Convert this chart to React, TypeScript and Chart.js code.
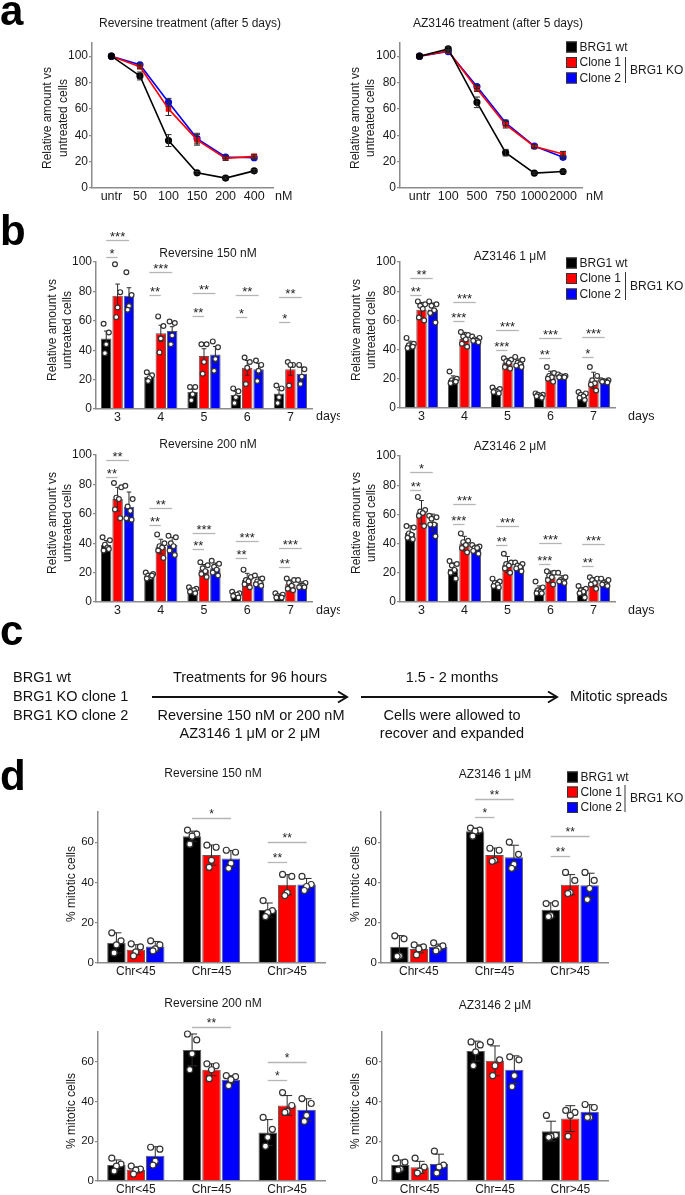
import React, { useEffect, useRef } from 'react';
import { Chart, registerables } from 'chart.js';

Chart.register(...registerables);

const FONT = "'Liberation Sans', Arial, Helvetica, sans-serif";
Chart.defaults.font.family = FONT;
Chart.defaults.color = '#1a1a1a';

const COLORS = ['#000000', '#ff0000', '#0000ff'];
const SERIES = ['BRG1 wt', 'Clone 1', 'Clone 2'];
const AXIS = '#8c8c8c';
const Y_W = 40;
const X_H = 14;

// ---------------- panel a data ----------------
const revDoseLabels = ['untr', '50', '100', '150', '200', '400'];
const revWt = [100, 85, 36, 11.5, 7.5, 13];
const revC1 = [100, 92, 60, 36.5, 22.5, 24];
const revC2 = [100, 93.5, 65, 37.5, 23.5, 23];
const revWtErr = [0, 3, 4.5, 1, 0.8, 1];
const revC1Err = [0, 1.5, 5, 4, 1.5, 1.5];
const revC2Err = [0, 1, 3, 4, 1, 1];

const azDoseLabels = ['untr', '100', '500', '750', '1000', '2000'];
const azWt = [100, 105.5, 65, 26.8, 11.3, 12.5];
const azC1 = [100, 104, 75.3, 48, 31.5, 25.8];
const azC2 = [100, 103.5, 77, 49.5, 31.8, 23.3];
const azWtErr = [0, 1.5, 4, 2.5, 0.8, 1];
const azC1Err = [0, 1, 2, 2.5, 1.5, 2];
const azC2Err = [0, 1, 1.5, 2, 1, 1.5];

// ---------------- panel b data ----------------
const dayLabels = ['3', '4', '5', '6', '7'];

const rev150Wt = [48, 22, 11.5, 9.5, 10.5];
const rev150C1 = [77, 51.5, 36, 28, 27];
const rev150C2 = [77, 53, 37, 27, 24];
const rev150WtErr = [5, 2, 2, 2.5, 2.5];
const rev150C1Err = [8, 5.5, 5, 5, 4];
const rev150C2Err = [5.5, 3, 5.5, 4, 4.5];
const rev150WtPts = [[58, 52, 44, 38], [25, 23, 21, 19], [15, 15, 10, 6], [14, 12, 8, 4], [16, 14, 8, 4]];
const rev150C1Pts = [[98.5, 79.5, 69, 62.5], [63, 56.5, 48, 38.5], [44, 44, 32, 24], [35, 32, 28, 17], [32, 30, 30, 16]];
const rev150C2Pts = [[93, 77.5, 70, 67.5], [59.5, 58.5, 50, 44], [46, 42, 34, 26], [33, 30, 26, 19], [30, 27, 22, 17]];
const rev150Sig: [number, number, number, string][] = [
  [0, 2, 115, '***'], [0, 1, 103.5, '*'], [1, 2, 93, '***'], [1, 1, 77.5, '**'], [2, 2, 79, '**'],
  [2, 1, 63, '**'], [3, 2, 77.5, '**'], [3, 1, 62.5, '*'], [4, 2, 76, '**'], [4, 1, 59, '*'],
];

const az1Wt = [43.3, 19.5, 11.8, 8.5, 8.4];
const az1C1 = [67.3, 47.3, 30.8, 22.2, 19];
const az1C2 = [67.4, 46.8, 31, 21.7, 18.3];
const az1WtErr = [2.5, 2.5, 1.5, 1.2, 1.5];
const az1C1Err = [5, 4.5, 3, 3, 5.5];
const az1C2Err = [4.5, 1.5, 2.5, 1, 1];
const az1WtPts = [[48, 44, 43, 42, 41, 42], [25, 20, 19, 18, 17, 18], [14, 13, 12, 11, 11, 10], [10, 9, 9, 8, 8, 7], [11, 10, 9, 8, 7, 5.5]];
const az1C1Pts = [[73, 71, 70, 68, 62, 60], [52, 50, 49, 47, 44, 42], [34, 33, 32, 31, 28, 27], [28, 24, 22, 21, 20, 18], [28, 22, 19, 17, 16, 12]];
const az1C2Pts = [[73, 71, 70, 67, 65, 58.5], [49, 48, 47, 46, 46, 45], [35, 33, 31, 30, 29, 28], [23, 22, 22, 21, 21, 21], [19, 19, 18.5, 18, 18, 17.5]];
const az1Sig: [number, number, number, string][] = [
  [0, 2, 89, '**'], [0, 1, 77.6, '**'], [1, 2, 72.6, '***'], [1, 1, 59.4, '***'], [2, 2, 53.7, '***'],
  [2, 1, 40, '***'], [3, 2, 48, '***'], [3, 1, 34.2, '**'], [4, 2, 48.6, '***'], [4, 1, 34.9, '*'],
];

const rev200Wt = [38.8, 18, 8, 5, 4];
const rev200C1 = [70, 37.7, 22, 15, 12];
const rev200C2 = [64.8, 39, 23, 14, 11.7];
const rev200WtErr = [3, 1.5, 1, 1, 1];
const rev200C1Err = [8, 5, 3.5, 4.5, 3];
const rev200C2Err = [10, 5, 3.5, 3, 2];
const rev200WtPts = [[44, 42, 39, 37, 35, 36], [20, 19, 18, 17, 16, 18], [10, 9, 8, 8, 7, 6], [7, 6, 5, 5, 4, 3], [6, 5, 4, 3, 3, 3]];
const rev200C1Pts = [[81, 78, 71, 70, 63, 57], [46, 40, 38, 37, 35, 30], [27, 25, 23, 21, 19, 17], [22, 17, 15, 14, 12, 10], [16, 15, 13, 11, 9, 8]];
const rev200C2Pts = [[79, 70, 65, 62, 57, 56], [45, 44, 40, 38, 35, 32], [28, 26, 24, 22, 20, 18], [18, 16, 14, 13, 12, 11], [15, 13, 11, 11, 10, 10]];
const rev200Sig: [number, number, number, string][] = [
  [0, 2, 96.6, '**'], [0, 1, 84.8, '**'], [1, 2, 64, '**'], [1, 1, 52.5, '**'], [2, 2, 47, '***'],
  [2, 1, 36, '**'], [3, 2, 41.3, '***'], [3, 1, 30, '**'], [4, 2, 36.5, '***'], [4, 1, 24, '**'],
];

const az2Wt = [47.2, 22.8, 12.7, 8.5, 7.3];
const az2C1 = [61.5, 40, 25.7, 17.2, 13.7];
const az2C2 = [54.2, 36.5, 24.3, 15.5, 13.2];
const az2WtErr = [5, 4, 2, 2.5, 2.5];
const az2C1Err = [8, 5, 5.5, 4, 3];
const az2C2Err = [6, 2.5, 2, 2.5, 2];
const az2WtPts = [[52, 51, 47, 46, 44, 43], [28, 26, 25, 22, 20, 16], [16, 14, 13, 12, 11, 10], [14, 10, 8, 7, 6, 6], [11, 9, 8, 7, 6, 3]];
const az2C1Pts = [[72, 63, 62, 61, 59, 52], [47, 42, 41, 39, 37, 34], [33, 27, 26, 25, 23, 20], [21, 20, 18, 17, 15, 12], [17, 16, 15, 13, 12, 9]];
const az2C2Pts = [[59, 58, 57, 53, 53, 45], [39, 38, 37, 37, 35, 33], [27, 26, 25, 24, 23, 21], [20, 17, 15, 14, 14, 13], [16, 15, 13, 12, 12, 11]];
const az2Sig: [number, number, number, string][] = [
  [0, 2, 89, '*'], [0, 1, 77, '**'], [1, 2, 67.4, '***'], [1, 1, 53.7, '***'], [2, 2, 51.8, '***'],
  [2, 1, 38.8, '**'], [3, 2, 40.4, '***'], [3, 1, 26.3, '***'], [4, 2, 39.5, '***'], [4, 1, 25, '**'],
];

// ---------------- panel d data ----------------
const chrLabels = ['Chr<45', 'Chr=45', 'Chr>45'];

const mit150Wt = [10, 63, 26.3];
const mit150C1 = [6.6, 53.6, 38.9];
const mit150C2 = [8.2, 51.9, 39];
const mit150WtErr = [5, 2.5, 3.5];
const mit150C1Err = [2.5, 5, 5];
const mit150C2Err = [2.5, 4, 3];
const mit150WtPts = [[15, 11, 9, 5], [66, 64, 63, 59], [31, 26, 25, 23]];
const mit150C1Pts = [[9.5, 8, 5.5, 3.5], [58.5, 57.5, 51, 47.5], [44, 43, 35, 33.5]];
const mit150C2Pts = [[11, 9, 7, 6], [56, 55, 49.5, 47], [43, 39, 38, 36]];
const mit150Sig: [number, number, number, string][] = [[1, 2, 71.8, '*'], [2, 2, 59.9, '**'], [2, 1, 50.1, '**']];

const mitAz1Wt = [8.1, 65.4, 26.4];
const mitAz1C1 = [7, 53.6, 38.9];
const mitAz1C2 = [7.9, 52.5, 38.6];
const mitAz1WtErr = [5.5, 1.5, 3.5];
const mitAz1C1Err = [2, 3.5, 5];
const mitAz1C2Err = [1.5, 6, 6];
const mitAz1WtPts = [[13.5, 12, 3.5, 3.3], [67, 66, 65.5, 63], [29.5, 29.5, 23.5, 23]];
const mitAz1C1Pts = [[9, 8, 7, 4], [57, 56, 51, 50.5], [45, 41, 35, 34.5]];
const mitAz1C2Pts = [[10, 8.5, 7, 6], [60, 54, 49, 47], [45, 41, 37, 31.5]];
const mitAz1Sig: [number, number, number, string][] = [[1, 2, 81.7, '**'], [1, 1, 72.3, '*'], [2, 2, 63.2, '**'], [2, 1, 53.3, '**']];

const mit200Wt = [8.1, 66, 24.4];
const mit200C1 = [5.6, 56, 38];
const mit200C2 = [12.75, 51, 35.9];
const mit200WtErr = [2.5, 8, 6.5];
const mit200C1Err = [1.5, 3, 5];
const mit200C2Err = [4.5, 2, 5.5];
const mit200WtPts = [[11.5, 8.5, 7.5, 5], [74, 71, 64, 56], [32, 26, 22, 17.5]];
const mit200C1Pts = [[7.5, 6, 5.5, 3.5], [59, 58, 56, 51.5], [44.5, 38, 35, 34.5]];
const mit200C2Pts = [[17, 16, 10, 8], [53, 52.5, 51, 48], [41.5, 39, 33, 30]];
const mit200Sig: [number, number, number, string][] = [[1, 2, 77.6, '**'], [2, 2, 59.7, '*'], [2, 1, 50.8, '*']];

const mitAz2Wt = [8.1, 65.4, 25.1];
const mitAz2C1 = [6.9, 60.5, 31.4];
const mitAz2C2 = [8.5, 56, 34.9];
const mitAz2WtErr = [2.5, 5, 5];
const mitAz2C1Err = [3, 7.5, 6.5];
const mitAz2C2Err = [5, 7, 3.5];
const mitAz2WtPts = [[11.5, 9.5, 6, 5.5], [70, 68.5, 65, 58], [33, 23, 22.5, 22]];
const mitAz2C1Pts = [[11.5, 7, 5, 4], [70, 61, 58, 53], [35.5, 34.5, 33, 22.5]];
const mitAz2C2Pts = [[15, 8, 7, 4], [62.5, 61, 53, 47.5], [38.5, 37, 32, 32]];
const mitAz2Sig: [number, number, number, string][] = [];

const yTicksA = [0, 20, 40, 60, 80, 100];
const yTicksB = [0, 20, 40, 60, 80, 100];
const yTicksD = [0, 20, 40, 60];

// ---------------- helpers ----------------
type Rect = [number, number, number, number];
type Plot = [number, number, number, number];

const OFF4 = [-0.5, 0.5, 0, -0.25];
const OFF6 = [-0.7, 0.7, -0.25, 0.25, -0.5, 0.5];

interface Deco {
  ox: number;
  oy: number;
  title?: { text: string; x: number; y: number; size: number };
  yTitle?: { lines: string[]; xs: number[]; y: number; size: number };
  unit?: { text: string; x: number; y: number; size: number };
  legend?: { x: number; ys: number[]; brX: number; brY0: number; brY1: number; koX: number; koY: number; size: number };
  vals?: number[][];
  errs?: number[][];
  capFrac?: number;
  capPx?: number;
  pts?: number[][][];
  ptR?: number;
  sig?: [number, number, number, string][];
  sigSize?: number;
  sigDy?: number;
}

function makeDeco(d: Deco) {
  return {
    id: 'deco',
    afterDatasetsDraw(chart: any) {
      const ctx = chart.ctx as CanvasRenderingContext2D;
      const ys = chart.scales.y;
      const px = (x: number) => x - d.ox;
      const py = (y: number) => y - d.oy;
      ctx.save();
      // error bars
      if (d.errs && d.vals) {
        d.errs.forEach((errArr, i) => {
          const meta = chart.getDatasetMeta(i);
          errArr.forEach((e, j) => {
            if (!e) return;
            const el = meta.data[j];
            const v = d.vals![i][j];
            const x = el.x;
            const y1 = ys.getPixelForValue(v + e);
            const y2 = ys.getPixelForValue(v - e);
            const cap = d.capPx != null ? d.capPx : el.width * (d.capFrac || 0.25);
            ctx.strokeStyle = '#2a2a2a';
            ctx.lineWidth = 1;
            ctx.beginPath();
            ctx.moveTo(x, y1); ctx.lineTo(x, y2);
            ctx.moveTo(x - cap, y1); ctx.lineTo(x + cap, y1);
            ctx.moveTo(x - cap, y2); ctx.lineTo(x + cap, y2);
            ctx.stroke();
          });
        });
      }
      // individual points
      if (d.pts) {
        d.pts.forEach((series, i) => {
          const meta = chart.getDatasetMeta(i);
          series.forEach((grp, j) => {
            const el = meta.data[j];
            const offs = grp.length > 4 ? OFF6 : OFF4;
            grp.forEach((v, k) => {
              const x = el.x + offs[k % offs.length] * el.width / 2;
              const y = ys.getPixelForValue(v);
              ctx.beginPath();
              ctx.arc(x, y, d.ptR || 2.3, 0, Math.PI * 2);
              ctx.fillStyle = '#ffffff';
              ctx.fill();
              ctx.strokeStyle = '#333333';
              ctx.lineWidth = 1.2;
              ctx.stroke();
            });
          });
        });
      }
      // significance brackets
      if (d.sig) {
        d.sig.forEach(([g, to, v, lab]) => {
          const x1 = chart.getDatasetMeta(0).data[g].x;
          const x2 = chart.getDatasetMeta(to).data[g].x;
          const y = Math.round(ys.getPixelForValue(v)) + 0.5;
          ctx.strokeStyle = '#b5b5b5';
          ctx.lineWidth = 1.3;
          ctx.beginPath();
          ctx.moveTo(x1, y); ctx.lineTo(x2, y);
          ctx.stroke();
          ctx.fillStyle = '#222';
          ctx.font = `${d.sigSize || 13}px ${FONT}`;
          ctx.textAlign = 'center';
          ctx.textBaseline = 'alphabetic';
          ctx.fillText(lab, (x1 + x2) / 2, y + (d.sigDy || 0));
        });
      }
      // texts
      ctx.fillStyle = '#1a1a1a';
      if (d.title) {
        ctx.font = `${d.title.size}px ${FONT}`;
        ctx.textAlign = 'center';
        ctx.textBaseline = 'middle';
        ctx.fillText(d.title.text, px(d.title.x), py(d.title.y));
      }
      if (d.unit) {
        ctx.font = `${d.unit.size}px ${FONT}`;
        ctx.textAlign = 'left';
        ctx.textBaseline = 'middle';
        ctx.fillText(d.unit.text, px(d.unit.x), py(d.unit.y));
      }
      if (d.yTitle) {
        const yt = d.yTitle;
        ctx.font = `${yt.size}px ${FONT}`;
        ctx.textAlign = 'center';
        ctx.textBaseline = 'middle';
        yt.lines.forEach((line, i) => {
          ctx.save();
          ctx.translate(px(yt.xs[i]), py(yt.y));
          ctx.rotate(-Math.PI / 2);
          ctx.fillText(line, 0, 0);
          ctx.restore();
        });
      }
      if (d.legend) {
        const lg = d.legend;
        ctx.font = `${lg.size}px ${FONT}`;
        ctx.textAlign = 'left';
        ctx.textBaseline = 'middle';
        SERIES.forEach((name, i) => {
          const x = px(lg.x);
          const y = py(lg.ys[i]);
          ctx.fillStyle = COLORS[i];
          ctx.fillRect(x, y - 5.5, 11, 11);
          ctx.strokeStyle = '#333';
          ctx.lineWidth = 1;
          ctx.strokeRect(x + 0.5, y - 5, 10, 10);
          ctx.fillStyle = '#1a1a1a';
          ctx.fillText(name, x + 13.5, y + 0.5);
        });
        ctx.strokeStyle = '#333';
        ctx.lineWidth = 1;
        ctx.beginPath();
        ctx.moveTo(px(lg.brX), py(lg.brY0));
        ctx.lineTo(px(lg.brX), py(lg.brY1));
        ctx.stroke();
        ctx.fillText('BRG1 KO', px(lg.koX), py(lg.koY));
      }
      ctx.restore();
    },
  };
}

function pad(rect: Rect, plot: Plot) {
  return {
    left: plot[0] - rect[0] - Y_W,
    top: plot[1] - rect[1],
    right: rect[0] + rect[2] - plot[2],
    bottom: rect[1] + rect[3] - plot[3] - X_H,
  };
}

function yScale(max: number, ticks: number[], size: number) {
  return {
    type: 'linear',
    min: 0,
    max,
    afterBuildTicks: (s: any) => { s.ticks = ticks.map((v) => ({ value: v })); },
    afterFit: (s: any) => { s.width = Y_W; },
    ticks: { padding: 1, font: { size }, color: '#1a1a1a' },
    grid: { display: true, drawOnChartArea: false, drawTicks: true, tickLength: 3, color: AXIS, lineWidth: 1.3 },
    border: { display: true, color: AXIS, width: 1.5 },
  };
}

const baseOptions = {
  responsive: false,
  animation: false,
  devicePixelRatio: 1,
  events: [] as string[],
  plugins: { legend: { display: false }, tooltip: { enabled: false }, title: { display: false } },
};

interface LineArgs {
  rect: Rect; plot: Plot; labels: string[]; series: number[][]; errs: number[][]; deco: Partial<Deco>;
}

function lineConfig(a: LineArgs) {
  const styles = ['circle', 'rect', 'circle'];
  return {
    type: 'line',
    data: {
      datasets: a.series.map((vals, i) => ({
        label: SERIES[i],
        data: vals.map((v, k) => ({ x: k, y: v })),
        borderColor: COLORS[i],
        backgroundColor: COLORS[i],
        pointBackgroundColor: COLORS[i],
        pointBorderColor: COLORS[i],
        pointStyle: styles[i],
        pointRadius: 2.8,
        borderWidth: 1.6,
        tension: 0,
      })),
    },
    options: {
      ...baseOptions,
      layout: { padding: pad(a.rect, a.plot) },
      scales: {
        x: {
          type: 'linear',
          min: -0.68,
          max: 5.66,
          afterBuildTicks: (s: any) => { s.ticks = a.labels.map((_, i) => ({ value: i })); },
          afterFit: (s: any) => { s.height = X_H; },
          ticks: { padding: 1.5, font: { size: 12.5 }, color: '#1a1a1a', maxRotation: 0, autoSkip: false, callback: (v: any) => a.labels[v] },
          grid: { display: true, drawOnChartArea: false, drawTicks: false, color: AXIS },
          border: { display: true, color: AXIS, width: 1.5 },
        },
        y: yScale(110, yTicksA, 12),
      },
    },
    plugins: [makeDeco({ ox: a.rect[0], oy: a.rect[1], vals: a.series, errs: a.errs, capPx: 3, ...a.deco } as Deco)],
  };
}

interface BarArgs {
  rect: Rect; plot: Plot; labels: string[]; series: number[][]; errs: number[][]; pts: number[][][];
  sig: [number, number, number, string][]; yMax: number; yTicks: number[]; tickSize: number; xTickSize: number;
  catPct: number; barPct: number; ptR: number; sigSize: number; sigDy: number; capFrac: number; deco: Partial<Deco>;
}

function barConfig(a: BarArgs) {
  return {
    type: 'bar',
    data: {
      labels: a.labels,
      datasets: a.series.map((vals, i) => ({
        label: SERIES[i],
        data: vals,
        backgroundColor: COLORS[i],
        borderColor: '#5a5a5a',
        borderWidth: 1,
        categoryPercentage: a.catPct,
        barPercentage: a.barPct,
      })),
    },
    options: {
      ...baseOptions,
      layout: { padding: pad(a.rect, a.plot) },
      scales: {
        x: {
          type: 'category',
          offset: true,
          afterFit: (s: any) => { s.height = X_H; },
          ticks: { padding: 1.5, font: { size: a.xTickSize }, color: '#1a1a1a', maxRotation: 0, autoSkip: false },
          grid: { display: true, drawOnChartArea: false, drawTicks: false, color: AXIS },
          border: { display: true, color: AXIS, width: 1.5 },
        },
        y: yScale(a.yMax, a.yTicks, a.tickSize),
      },
    },
    plugins: [makeDeco({
      ox: a.rect[0], oy: a.rect[1], vals: a.series, errs: a.errs, pts: a.pts, ptR: a.ptR,
      sig: a.sig, sigSize: a.sigSize, sigDy: a.sigDy, capFrac: a.capFrac, ...a.deco,
    } as Deco)],
  };
}

// ---------------- layout ----------------
const A_L_RECT: Rect = [0, 8, 340, 207];
const A_R_RECT: Rect = [340, 8, 345, 207];
const B_TL_RECT: Rect = [0, 215, 340, 210];
const B_TR_RECT: Rect = [340, 215, 345, 210];
const B_BL_RECT: Rect = [0, 425, 340, 195];
const B_BR_RECT: Rect = [340, 425, 345, 195];
const D_TL_RECT: Rect = [0, 755, 340, 230];
const D_TR_RECT: Rect = [340, 755, 345, 230];
const D_BL_RECT: Rect = [0, 985, 340, 210];
const D_BR_RECT: Rect = [340, 985, 345, 210];

const Y_TITLE_B = ['Relative amount vs', 'untreated cells'];
const LEG_SIZE = 12;

function bPanel(rect: Rect, plot: Plot, series: number[][], errs: number[][], pts: number[][][], sig: [number, number, number, string][], deco: Partial<Deco>) {
  return barConfig({
    rect, plot, labels: dayLabels, series, errs, pts, sig, yMax: 100, yTicks: yTicksB, tickSize: 12, xTickSize: 12.5,
    catPct: 0.79, barPct: 0.92, ptR: 2.4, sigSize: 13, sigDy: 0.5, capFrac: 0.22, deco,
  });
}

function dPanel(rect: Rect, plot: Plot, series: number[][], errs: number[][], pts: number[][][], sig: [number, number, number, string][], deco: Partial<Deco>) {
  return barConfig({
    rect, plot, labels: chrLabels, series, errs, pts, sig, yMax: 75, yTicks: yTicksD, tickSize: 11.5, xTickSize: 12,
    catPct: 0.77, barPct: 0.95, ptR: 3, sigSize: 12, sigDy: -0.5, capFrac: 0.27, deco,
  });
}

const buildALeft = () => lineConfig({
  rect: A_L_RECT, plot: [92, 43, 273, 188], labels: revDoseLabels,
  series: [revWt, revC1, revC2], errs: [revWtErr, revC1Err, revC2Err],
  deco: {
    title: { text: 'Reversine treatment (after 5 days)', x: 190, y: 24, size: 12 },
    yTitle: { lines: Y_TITLE_B, xs: [48, 64], y: 118, size: 12 },
    unit: { text: 'nM', x: 275, y: 197, size: 12.5 },
  },
});

const buildARight = () => lineConfig({
  rect: A_R_RECT, plot: [400, 43, 582, 188], labels: azDoseLabels,
  series: [azWt, azC1, azC2], errs: [azWtErr, azC1Err, azC2Err],
  deco: {
    title: { text: 'AZ3146 treatment (after 5 days)', x: 498, y: 24, size: 12 },
    yTitle: { lines: Y_TITLE_B, xs: [355.5, 371], y: 118, size: 12 },
    unit: { text: 'nM', x: 586, y: 197, size: 12.5 },
    legend: { x: 566, ys: [47, 62.5, 78], brX: 625.5, brY0: 57, brY1: 83, koX: 630, koY: 70.5, size: LEG_SIZE },
  },
});

const buildBTL = () => bPanel(B_TL_RECT, [96, 262, 312, 409],
  [rev150Wt, rev150C1, rev150C2], [rev150WtErr, rev150C1Err, rev150C2Err],
  [rev150WtPts, rev150C1Pts, rev150C2Pts], rev150Sig, {
    title: { text: 'Reversine 150 nM', x: 208, y: 254, size: 12 },
    yTitle: { lines: Y_TITLE_B, xs: [52.5, 67.5], y: 330, size: 12 },
    unit: { text: 'days', x: 316, y: 417, size: 12.5 },
  });

const buildBTR = () => bPanel(B_TR_RECT, [400, 262, 615, 408],
  [az1Wt, az1C1, az1C2], [az1WtErr, az1C1Err, az1C2Err],
  [az1WtPts, az1C1Pts, az1C2Pts], az1Sig, {
    title: { text: 'AZ3146 1 μM', x: 510, y: 257, size: 12 },
    yTitle: { lines: Y_TITLE_B, xs: [356.5, 371.5], y: 330, size: 12 },
    unit: { text: 'days', x: 628, y: 417, size: 12.5 },
    legend: { x: 566, ys: [263, 278.5, 294], brX: 625.5, brY0: 272, brY1: 300, koX: 630, koY: 286.5, size: LEG_SIZE },
  });

const buildBBL = () => bPanel(B_BL_RECT, [96, 455, 312, 602],
  [rev200Wt, rev200C1, rev200C2], [rev200WtErr, rev200C1Err, rev200C2Err],
  [rev200WtPts, rev200C1Pts, rev200C2Pts], rev200Sig, {
    title: { text: 'Reversine 200 nM', x: 208, y: 445, size: 12 },
    yTitle: { lines: Y_TITLE_B, xs: [52.5, 67.5], y: 523, size: 12 },
    unit: { text: 'days', x: 316, y: 611, size: 12.5 },
  });

const buildBBR = () => bPanel(B_BR_RECT, [400, 456, 615, 602],
  [az2Wt, az2C1, az2C2], [az2WtErr, az2C1Err, az2C2Err],
  [az2WtPts, az2C1Pts, az2C2Pts], az2Sig, {
    title: { text: 'AZ3146 2 μM', x: 510, y: 447, size: 12 },
    yTitle: { lines: Y_TITLE_B, xs: [356.5, 371.5], y: 523, size: 12 },
    unit: { text: 'days', x: 628, y: 611, size: 12.5 },
  });

const buildDTL = () => dPanel(D_TL_RECT, [98, 812, 325, 963],
  [mit150Wt, mit150C1, mit150C2], [mit150WtErr, mit150C1Err, mit150C2Err],
  [mit150WtPts, mit150C1Pts, mit150C2Pts], mit150Sig, {
    title: { text: 'Reversine 150 nM', x: 213, y: 774, size: 12 },
    yTitle: { lines: ['% mitotic cells'], xs: [72], y: 884, size: 12 },
  });

const buildDTR = () => dPanel(D_TR_RECT, [381, 812, 608, 963],
  [mitAz1Wt, mitAz1C1, mitAz1C2], [mitAz1WtErr, mitAz1C1Err, mitAz1C2Err],
  [mitAz1WtPts, mitAz1C1Pts, mitAz1C2Pts], mitAz1Sig, {
    title: { text: 'AZ3146 1 μM', x: 495, y: 775, size: 12 },
    yTitle: { lines: ['% mitotic cells'], xs: [355.5], y: 884, size: 12 },
    legend: { x: 567, ys: [777, 792, 807.5], brX: 625, brY0: 785, brY1: 812, koX: 630, koY: 799, size: LEG_SIZE },
  });

const buildDBL = () => dPanel(D_BL_RECT, [98, 1032, 325, 1181],
  [mit200Wt, mit200C1, mit200C2], [mit200WtErr, mit200C1Err, mit200C2Err],
  [mit200WtPts, mit200C1Pts, mit200C2Pts], mit200Sig, {
    title: { text: 'Reversine 200 nM', x: 213, y: 1004, size: 12 },
    yTitle: { lines: ['% mitotic cells'], xs: [72], y: 1111, size: 12 },
  });

const buildDBR = () => dPanel(D_BR_RECT, [382, 1032, 608, 1181],
  [mitAz2Wt, mitAz2C1, mitAz2C2], [mitAz2WtErr, mitAz2C1Err, mitAz2C2Err],
  [mitAz2WtPts, mitAz2C1Pts, mitAz2C2Pts], mitAz2Sig, {
    title: { text: 'AZ3146 2 μM', x: 495, y: 1006, size: 12 },
    yTitle: { lines: ['% mitotic cells'], xs: [355.5], y: 1111, size: 12 },
  });

function ChartBox({ rect, build }: { rect: Rect; build: () => any }) {
  const ref = useRef<HTMLCanvasElement | null>(null);
  useEffect(() => {
    const chart = new Chart(ref.current as HTMLCanvasElement, build());
    return () => chart.destroy();
  }, []);
  return (
    <div style={{ position: 'absolute', left: rect[0], top: rect[1], width: rect[2], height: rect[3] }}>
      <canvas ref={ref} width={rect[2]} height={rect[3]} style={{ display: 'block', width: rect[2], height: rect[3] }} />
    </div>
  );
}

// ---------------- panel c and panel letters ----------------
function Arrow({ x1, x2, y }: { x1: number; x2: number; y: number }) {
  return (
    <g stroke="#111" strokeWidth={2} fill="none">
      <line x1={x1} y1={y} x2={x2 - 1} y2={y} />
      <polyline points={`${x2 - 9},${y - 5.5} ${x2},${y} ${x2 - 9},${y + 5.5}`} strokeLinejoin="miter" />
    </g>
  );
}

function Overlay() {
  const t = { fontFamily: FONT, fontSize: 14.5, fill: '#111' };
  const L = { fontFamily: FONT, fontSize: 42, fontWeight: 700, fill: '#000' };
  return (
    <svg width={685} height={1195} style={{ position: 'absolute', left: 0, top: 0, pointerEvents: 'none' }}>
      <text x={0} y={25} {...L}>a</text>
      <text x={0} y={245} {...L}>b</text>
      <text x={0} y={645} {...L}>c</text>
      <text x={0} y={790} {...L}>d</text>

      <text x={13} y={682} {...t}>BRG1 wt</text>
      <text x={13} y={701} {...t}>BRG1 KO clone 1</text>
      <text x={13} y={720} {...t}>BRG1 KO clone 2</text>

      <text x={250} y={682} textAnchor="middle" {...t}>Treatments for 96 hours</text>
      <Arrow x1={152} x2={347} y={697} />
      <text x={251} y={720} textAnchor="middle" {...t}>Reversine 150 nM or 200 nM</text>
      <text x={250} y={738} textAnchor="middle" {...t}>AZ3146 1 μM or 2 μM</text>

      <text x={452} y={682} textAnchor="middle" {...t}>1.5 - 2 months</text>
      <Arrow x1={361} x2={557} y={697} />
      <text x={452} y={720} textAnchor="middle" {...t}>Cells were allowed to</text>
      <text x={452} y={738} textAnchor="middle" {...t}>recover and expanded</text>

      <text x={570} y={701} {...t}>Mitotic spreads</text>
    </svg>
  );
}

export default function App() {
  return (
    <div style={{ position: 'absolute', left: 0, top: 0, width: 685, height: 1195, overflow: 'hidden', background: '#fff', fontFamily: FONT }}>
      <ChartBox rect={A_L_RECT} build={buildALeft} />
      <ChartBox rect={A_R_RECT} build={buildARight} />
      <ChartBox rect={B_TL_RECT} build={buildBTL} />
      <ChartBox rect={B_TR_RECT} build={buildBTR} />
      <ChartBox rect={B_BL_RECT} build={buildBBL} />
      <ChartBox rect={B_BR_RECT} build={buildBBR} />
      <ChartBox rect={D_TL_RECT} build={buildDTL} />
      <ChartBox rect={D_TR_RECT} build={buildDTR} />
      <ChartBox rect={D_BL_RECT} build={buildDBL} />
      <ChartBox rect={D_BR_RECT} build={buildDBR} />
      <Overlay />
    </div>
  );
}
